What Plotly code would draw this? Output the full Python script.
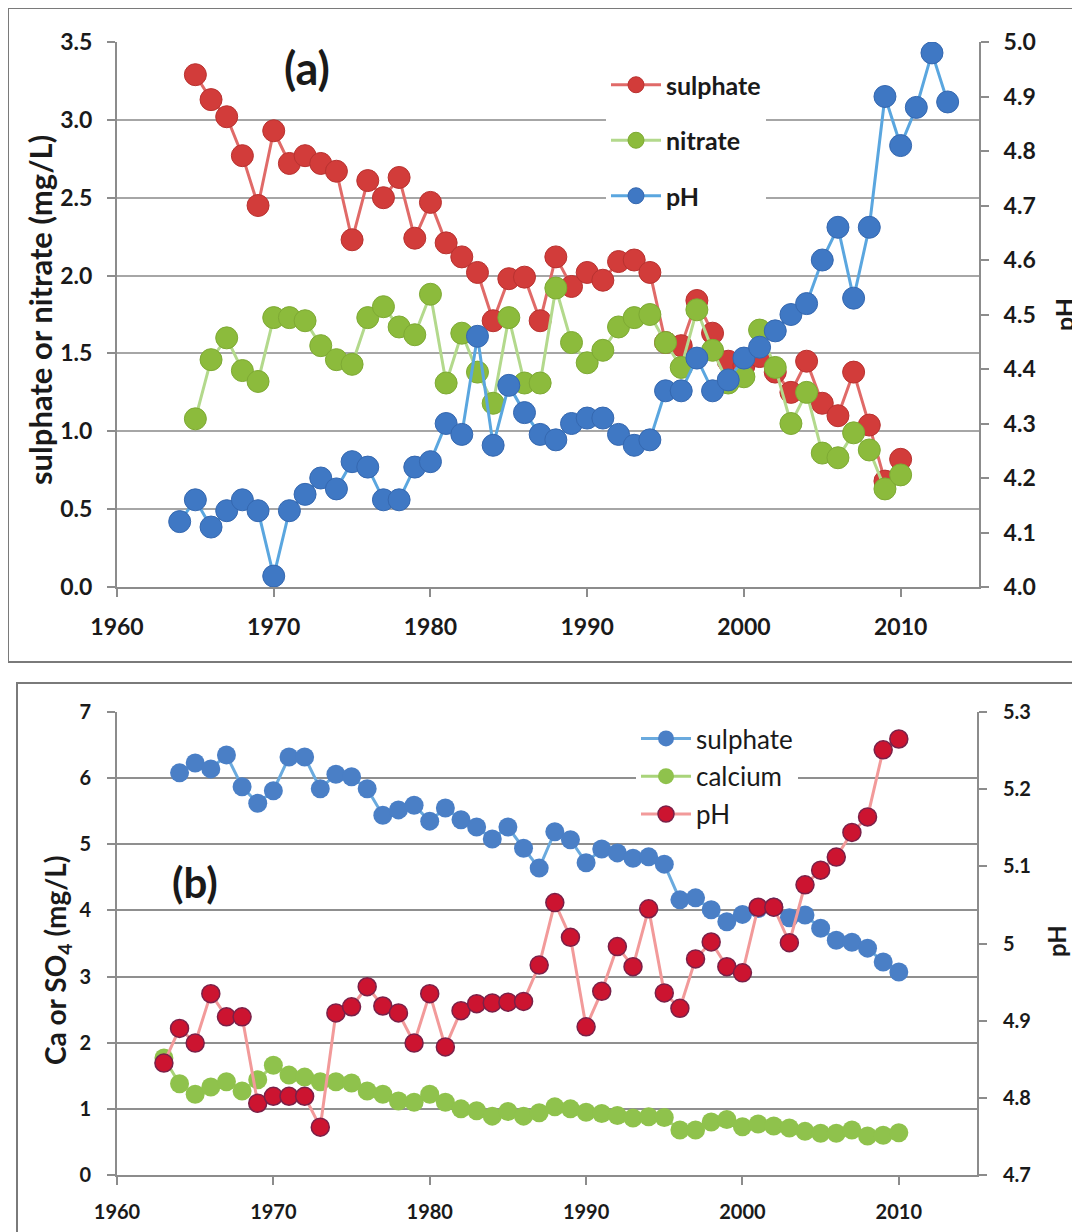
import plotly.graph_objects as go

FONT = "Lato"
OFF = 8                     # default page margin of the html body
W, H = 1080 - OFF, 1232 - OFF

# ---------------- Panel (a) data ----------------
years_a_sulphate = list(range(1965, 2011))
sulphate_a = [3.29, 3.13, 3.02, 2.77, 2.45, 2.93, 2.72, 2.77, 2.72, 2.67,
              2.23, 2.61, 2.50, 2.63, 2.24, 2.47, 2.21, 2.12, 2.02, 1.71,
              1.98, 1.99, 1.71, 2.12, 1.93, 2.02, 1.97, 2.09, 2.10, 2.02,
              1.57, 1.55, 1.84, 1.63, 1.45, 1.42, 1.48, 1.38, 1.25, 1.45,
              1.18, 1.10, 1.38, 1.04, 0.68, 0.82]
years_a_nitrate = list(range(1965, 2011))
nitrate_a = [1.08, 1.46, 1.60, 1.39, 1.32, 1.73, 1.73, 1.71, 1.55, 1.46,
             1.43, 1.73, 1.80, 1.67, 1.62, 1.88, 1.31, 1.63, 1.38, 1.18,
             1.73, 1.31, 1.31, 1.92, 1.57, 1.44, 1.52, 1.67, 1.73, 1.75,
             1.57, 1.41, 1.78, 1.52, 1.31, 1.35, 1.65, 1.41, 1.05, 1.25,
             0.86, 0.83, 0.99, 0.88, 0.63, 0.72]
years_a_ph = list(range(1964, 2014))
ph_a = [4.12, 4.16, 4.11, 4.14, 4.16, 4.14, 4.02, 4.14, 4.17, 4.20,
        4.18, 4.23, 4.22, 4.16, 4.16, 4.22, 4.23, 4.30, 4.28, 4.46,
        4.26, 4.37, 4.32, 4.28, 4.27, 4.30, 4.31, 4.31, 4.28, 4.26,
        4.27, 4.36, 4.36, 4.42, 4.36, 4.38, 4.42, 4.44, 4.47, 4.50,
        4.52, 4.60, 4.66, 4.53, 4.66, 4.90, 4.81, 4.88, 4.98, 4.89]

# ---------------- Panel (b) data ----------------
years_b_sulphate = list(range(1964, 2011))
sulphate_b = [6.08, 6.23, 6.14, 6.35, 5.87, 5.62, 5.81, 6.32, 6.32, 5.84,
              6.06, 6.02, 5.84, 5.44, 5.52, 5.59, 5.35, 5.55, 5.37, 5.26,
              5.08, 5.26, 4.94, 4.64, 5.19, 5.07, 4.72, 4.93, 4.87, 4.79,
              4.81, 4.70, 4.16, 4.19, 4.01, 3.83, 3.94, 4.03, 4.05, 3.89,
              3.93, 3.73, 3.55, 3.52, 3.43, 3.22, 3.07]
years_b_calcium = list(range(1963, 2011))
calcium_b = [1.77, 1.38, 1.22, 1.33, 1.41, 1.27, 1.44, 1.66, 1.51, 1.48,
             1.41, 1.41, 1.39, 1.27, 1.22, 1.12, 1.10, 1.22, 1.10, 1.00,
             0.97, 0.89, 0.96, 0.89, 0.94, 1.03, 1.00, 0.95, 0.93, 0.90,
             0.86, 0.88, 0.87, 0.68, 0.68, 0.80, 0.84, 0.73, 0.77, 0.74,
             0.71, 0.66, 0.63, 0.63, 0.68, 0.59, 0.60, 0.64]
years_b_ph = list(range(1963, 2011))
ph_b = [4.845, 4.890, 4.871, 4.935, 4.905, 4.905, 4.793, 4.802, 4.802, 4.802,
        4.762, 4.910, 4.918, 4.944, 4.919, 4.910, 4.871, 4.935, 4.866, 4.913,
        4.922, 4.923, 4.924, 4.925, 4.972, 5.053, 5.008, 4.892, 4.938, 4.996,
        4.970, 5.045, 4.936, 4.916, 4.980, 5.002, 4.970, 4.962, 5.047, 5.047,
        5.001, 5.076, 5.095, 5.112, 5.144, 5.164, 5.251, 5.265]

# tick labels
x_ticks = [1960, 1970, 1980, 1990, 2000, 2010]
ya_left_ticks = [0.0, 0.5, 1.0, 1.5, 2.0, 2.5, 3.0, 3.5]
ya_right_ticks = [4.0, 4.1, 4.2, 4.3, 4.4, 4.5, 4.6, 4.7, 4.8, 4.9, 5.0]
yb_left_ticks = [0, 1, 2, 3, 4, 5, 6, 7]
yb_right_ticks = [4.7, 4.8, 4.9, 5.0, 5.1, 5.2, 5.3]
yb_right_text = ["4.7", "4.8", "4.9", "5", "5.1", "5.2", "5.3"]


def px(x):
    return (x - OFF) / W


def py(y):
    return 1 - (y - OFF) / H


TXT = "#1a1a1a"
GRID = "#a6a6a6"
AXL = "#8c8c8c"

fig = go.Figure()

# Panel (a) traces
fig.add_trace(go.Scatter(
    x=years_a_sulphate, y=sulphate_a, name="sulphate", mode="lines+markers",
    line=dict(color="#e06a68", width=3),
    marker=dict(color="#d23c3a", size=22, line=dict(color="#b83230", width=1)),
    xaxis="x", yaxis="y", legend="legend", legendgroup="a1"))
fig.add_trace(go.Scatter(
    x=years_a_nitrate, y=nitrate_a, name="nitrate", mode="lines+markers",
    line=dict(color="#b3d98c", width=3),
    marker=dict(color="#8cbb3c", size=22, line=dict(color="#7eaa34", width=1)),
    xaxis="x", yaxis="y", legend="legend", legendgroup="a2"))
fig.add_trace(go.Scatter(
    x=years_a_ph, y=ph_a, name="pH", mode="lines+markers",
    line=dict(color="#5aa6df", width=3),
    marker=dict(color="#3f78c4", size=22, line=dict(color="#3568b0", width=1)),
    xaxis="x", yaxis="y2", legend="legend", legendgroup="a3"))

# Panel (b) traces
fig.add_trace(go.Scatter(
    x=years_b_sulphate, y=sulphate_b, name="sulphate", mode="lines+markers",
    line=dict(color="#6aaade", width=3),
    marker=dict(color="#4a7fc6", size=19),
    xaxis="x2", yaxis="y3", legend="legend2", legendgroup="b1"))
fig.add_trace(go.Scatter(
    x=years_b_calcium, y=calcium_b, name="calcium", mode="lines+markers",
    line=dict(color="#a9d47a", width=3),
    marker=dict(color="#8fc24c", size=19),
    xaxis="x2", yaxis="y3", legend="legend2", legendgroup="b2"))
fig.add_trace(go.Scatter(
    x=years_b_ph, y=ph_b, name="pH", mode="lines+markers",
    line=dict(color="#f29a9a", width=3),
    marker=dict(color="#cc1430", size=18, line=dict(color="#7a2048", width=1.5)),
    xaxis="x2", yaxis="y4", legend="legend2", legendgroup="b3"))

tickfont_a = dict(family=FONT, size=23, color=TXT, weight="bold")
tickfont_b = dict(family=FONT, size=20, color=TXT, weight="bold")

common_x = dict(range=[1960, 2015], tickmode="array", tickvals=x_ticks,
                showgrid=False, zeroline=False, showline=True, linecolor=AXL,
                linewidth=2, ticks="outside", ticklen=8, tickcolor=AXL,
                tickwidth=1.5, ticklabelstandoff=10, automargin=False)

fig.update_layout(
    width=W, height=H,
    margin=dict(l=0, r=0, t=0, b=0, pad=0, autoexpand=False),
    paper_bgcolor="white", plot_bgcolor="white",
    showlegend=True,
    xaxis=dict(common_x, domain=[px(117), px(979)], anchor="y", tickfont=tickfont_a),
    yaxis=dict(domain=[py(587), py(42)], anchor="x", range=[0, 3.5],
               tickmode="array", tickvals=ya_left_ticks, tickformat=".1f",
               showgrid=True, gridcolor=GRID, gridwidth=2, zeroline=False,
               showline=True, linecolor=AXL, linewidth=2, ticks="outside",
               ticklen=8, tickcolor=AXL, tickwidth=1.5, tickfont=tickfont_a,
               ticklabelstandoff=10, automargin=False),
    yaxis2=dict(overlaying="y", side="right", anchor="x", range=[4.0, 5.0],
                tickmode="array", tickvals=ya_right_ticks, tickformat=".1f",
                showgrid=False, zeroline=False, showline=True, linecolor=AXL,
                linewidth=2, ticks="outside", ticklen=8, tickcolor=AXL,
                tickwidth=1.5, tickfont=tickfont_a, ticklabelstandoff=10,
                automargin=False),
    xaxis2=dict(common_x, domain=[px(117), px(977)], anchor="y3", tickfont=tickfont_b),
    yaxis3=dict(domain=[py(1175), py(712)], anchor="x2", range=[0, 7],
                tickmode="array", tickvals=yb_left_ticks,
                showgrid=True, gridcolor="#8f8f8f", gridwidth=1.5, zeroline=False,
                showline=True, linecolor=AXL, linewidth=2, ticks="outside",
                ticklen=8, tickcolor=AXL, tickwidth=1.5, tickfont=tickfont_b,
                ticklabelstandoff=12, automargin=False),
    yaxis4=dict(overlaying="y3", side="right", anchor="x2", range=[4.7, 5.3],
                tickmode="array", tickvals=yb_right_ticks, ticktext=yb_right_text,
                showgrid=False, zeroline=False, showline=True, linecolor=AXL,
                linewidth=2, ticks="outside", ticklen=8, tickcolor=AXL,
                tickwidth=1.5, tickfont=tickfont_b, ticklabelstandoff=12,
                automargin=False),
    legend=dict(x=px(606), y=py(62), xanchor="left", yanchor="top",
                bgcolor="white", borderwidth=0, traceorder="grouped",
                tracegroupgap=20, itemwidth=50,
                font=dict(family=FONT, size=25, color=TXT, weight="bold")),
    legend2=dict(x=px(636), y=py(715), xanchor="left", yanchor="top",
                 bgcolor="white", borderwidth=0, traceorder="grouped",
                 tracegroupgap=1, itemwidth=50,
                 font=dict(family=FONT, size=26, color=TXT)),
    shapes=[
        dict(type="rect", xref="paper", yref="paper",
             x0=px(8), x1=px(1078), y0=py(662), y1=py(8),
             line=dict(color="#7a7a7a", width=2), fillcolor="rgba(0,0,0,0)",
             layer="below"),
        dict(type="rect", xref="paper", yref="paper",
             x0=px(17), x1=px(1077), y0=py(1260), y1=py(683),
             line=dict(color="#7a7a7a", width=2), fillcolor="rgba(0,0,0,0)",
             layer="below"),
    ],
    annotations=[
        dict(text="(a)", x=px(307), y=py(68), xref="paper", yref="paper",
             xanchor="center", yanchor="middle", showarrow=False,
             bgcolor="white", width=84, borderpad=0,
             font=dict(family=FONT, size=45, color=TXT, weight="bold")),
        dict(text="(b)", x=px(195), y=py(882), xref="paper", yref="paper",
             xanchor="center", yanchor="middle", showarrow=False,
             font=dict(family=FONT, size=42, color=TXT, weight="bold")),
        dict(text="sulphate or nitrate (mg/L)", x=px(40), y=py(310),
             xref="paper", yref="paper", xanchor="center", yanchor="middle",
             textangle=-90, showarrow=False,
             font=dict(family=FONT, size=31, color=TXT, weight="bold")),
        dict(text="pH", x=px(1064), y=py(315), xref="paper", yref="paper",
             xanchor="center", yanchor="middle", textangle=-90, showarrow=False,
             font=dict(family=FONT, size=25, color=TXT, weight="bold")),
        dict(text="Ca or SO<sub>4</sub> (mg/L)", x=px(57), y=py(960),
             xref="paper", yref="paper", xanchor="center", yanchor="middle",
             textangle=-90, showarrow=False,
             font=dict(family=FONT, size=28, color=TXT, weight="bold")),
        dict(text="pH", x=px(1056), y=py(941), xref="paper", yref="paper",
             xanchor="center", yanchor="middle", textangle=-90, showarrow=False,
             font=dict(family=FONT, size=24, color=TXT, weight="bold")),
    ],
)

fig.write_html("out.html")
